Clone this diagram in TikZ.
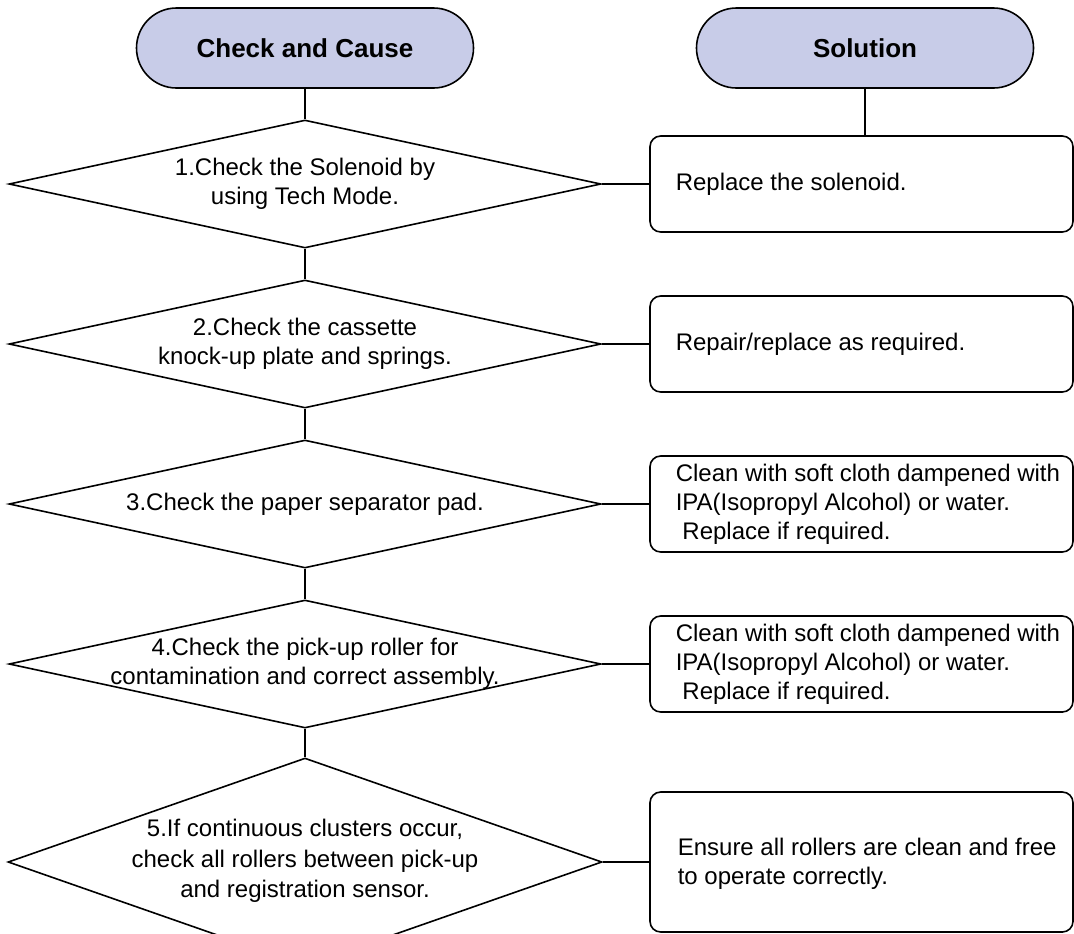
\documentclass[tikz,border=0pt]{standalone}
\usepackage{fontspec}
\setmainfont{Liberation Sans}
\usetikzlibrary{shapes.geometric}
\definecolor{headfill}{RGB}{200,204,232}
\begin{document}
\begin{tikzpicture}[x=0.75pt, y=-0.75pt, line width=1.2pt,
  head/.style={draw, fill=headfill, rounded corners=30pt, minimum width=252.75pt, minimum height=60pt, font=\bfseries\fontsize{19.5}{23}\selectfont},
  check/.style={draw, diamond, inner sep=0pt, minimum width=444pt, minimum height=96pt},
  fixbox/.style={draw, rounded corners=8pt, minimum width=317.25pt, minimum height=72pt},
  checktxt/.style={align=center, inner sep=0pt, font=\fontsize{18}{21.75}\selectfont},
  fixtxt/.style={align=left, anchor=west, inner sep=0pt, font=\fontsize{18}{21.75}\selectfont}]
  \useasboundingbox (0,0) rectangle (1074,933);
  \clip (0,0) rectangle (1074,933);
  % headers
  \node[head] (h1) at (305,48) {Check and Cause};
  \node[head] (h2) at (865,48) {Solution};
  % checks
  \node[check] (c1) at (305,184) {};
  \node[checktxt] (t1) at (c1) {1.Check the Solenoid by\\using Tech Mode.};
  \node[check] (c2) at (305,344) {};
  \node[checktxt] (t2) at (c2) {2.Check the cassette\\knock-up plate and springs.};
  \node[check] (c3) at (305,504) {};
  \node[checktxt] (t3) at (c3) {3.Check the paper separator pad.};
  \node[check] (c4) at (305,664) {};
  \node[checktxt] (t4) at (c4) {4.Check the pick-up roller for\\contamination and correct assembly.};
  \node[check, minimum width=445.5pt, minimum height=156pt] (c5) at (305,862) {};
  \node[checktxt, font=\fontsize{18}{23}\selectfont] (t5) at (305,861) {5.If continuous clusters occur,\\check all rollers between pick-up\\and registration sensor.};
  % solutions
  \node[fixbox] (f1) at (861.5,184) {};
  \node[fixtxt] (s1) at (675,184) {Replace the solenoid.};
  \node[fixbox] (f2) at (861.5,344) {};
  \node[fixtxt] (s2) at (675,344) {Repair/replace as required.};
  \node[fixbox] (f3) at (861.5,504) {};
  \node[fixtxt] (s3) at (675,504) {Clean with soft cloth dampened with\\IPA(Isopropyl Alcohol) or water.\\\hspace*{5pt}Replace if required.};
  \node[fixbox] (f4) at (861.5,664) {};
  \node[fixtxt] (s4) at (675,664) {Clean with soft cloth dampened with\\IPA(Isopropyl Alcohol) or water.\\\hspace*{5pt}Replace if required.};
  \node[fixbox, minimum height=105pt] (f5) at (861.5,862) {};
  \node[fixtxt] (s5) at (677,864) {Ensure all rollers are clean and free\\to operate correctly.};
  % connectors
  \draw (h1) -- (c1);
  \draw (c1) -- (c2);
  \draw (c2) -- (c3);
  \draw (c3) -- (c4);
  \draw (c4) -- (c5);
  \draw (h2) -- (h2 |- f1.north);
  \draw (c1) -- (f1);
  \draw (c2) -- (f2);
  \draw (c3) -- (f3);
  \draw (c4) -- (f4);
  \draw (c5) -- (f5);
\end{tikzpicture}
\end{document}
